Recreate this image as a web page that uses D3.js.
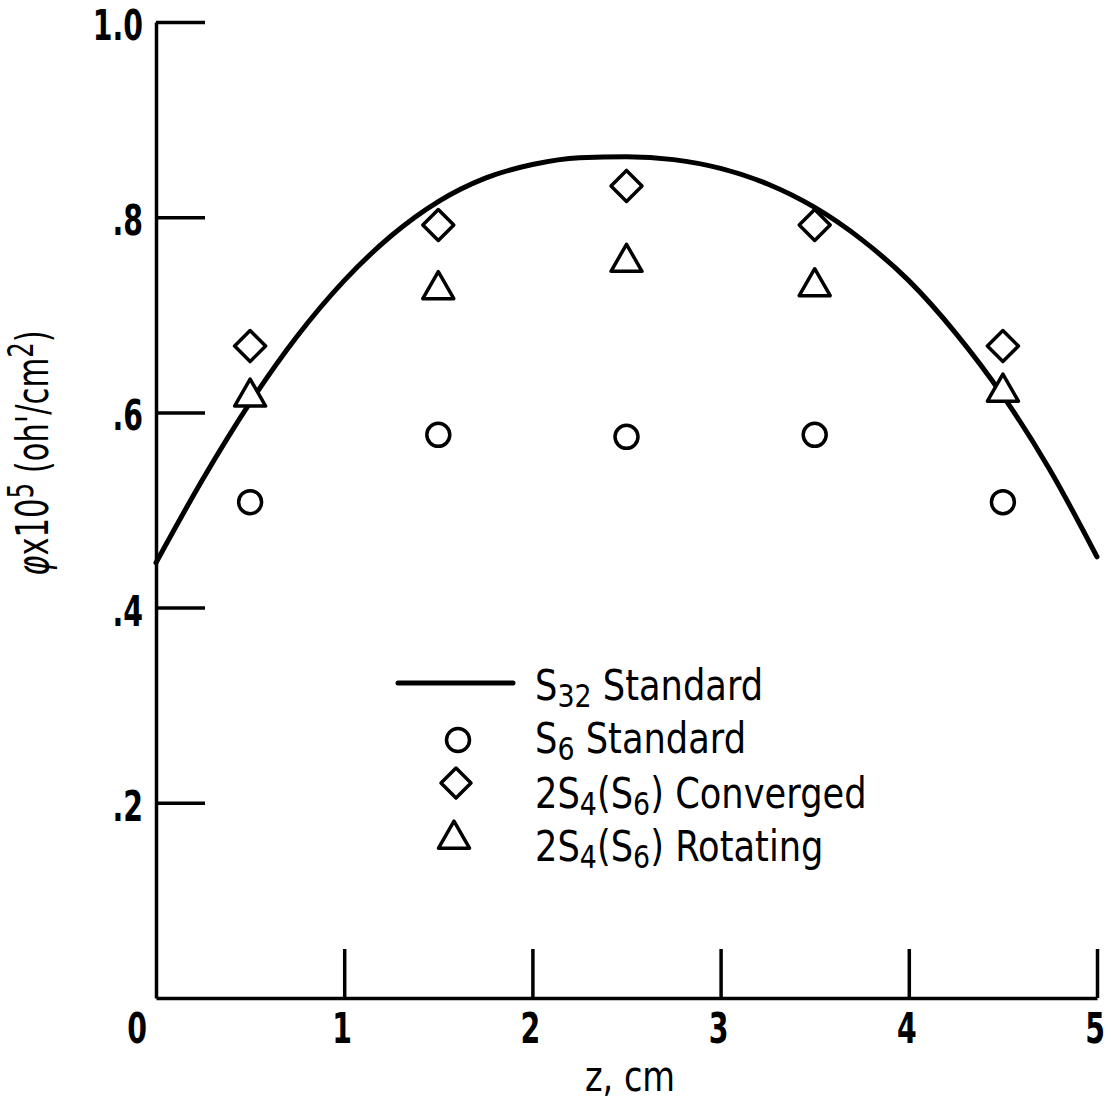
<!DOCTYPE html>
<html>
<head>
<meta charset="utf-8">
<script src="https://cdn.jsdelivr.net/npm/d3@7"></script>
<style>
  html, body { margin: 0; padding: 0; background: #fff; }
  svg { display: block; }
  .lbl { font-family: "DejaVu Sans", sans-serif; fill: #000; }
</style>
</head>
<body>
<svg id="chart" width="1111" height="1102"></svg>
<script>
// ---- data ----
const xTicks = [0, 1, 2, 3, 4, 5];
const xTickLabels = ["0", "1", "2", "3", "4", "5"];
const yTicks = [0.2, 0.4, 0.6, 0.8, 1.0];
const yTickLabels = [".2", ".4", ".6", ".8", "1.0"];

// S32 Standard (solid curve)
const curveZ = [0, 0.25, 0.5, 0.75, 1.0, 1.25, 1.5, 1.75, 2.0, 2.25, 2.5, 2.75, 3.0, 3.25, 3.5, 3.75, 4.0, 4.25, 4.5, 4.75, 5.0];
const curvePhi = [0.446, 0.532, 0.610, 0.678, 0.735, 0.781, 0.816, 0.840, 0.854, 0.861, 0.862, 0.859, 0.850, 0.834, 0.810, 0.777, 0.735, 0.681, 0.617, 0.541, 0.452];

// point series
const pointZ = [0.5, 1.5, 2.5, 3.5, 4.5];
const s6Standard = [0.508, 0.577, 0.575, 0.577, 0.508];
const converged = [0.668, 0.792, 0.832, 0.792, 0.668];
const rotating = [0.619, 0.729, 0.757, 0.732, 0.624];

const legendLabels = [
  ["S", "32", " Standard"],
  ["S", "6", " Standard"],
  ["2S", "4", "(S", "6", ") Converged"],
  ["2S", "4", "(S", "6", ") Rotating"]
];

// ---- scales ----
const svg = d3.select("#chart");
const x = d3.scaleLinear().domain([0, 5]).range([156, 1097]);
const y = d3.scaleLinear().domain([0, 1]).range([998, 22]);

const AX = 3.5;

// y axis (ticks pointing right, inside)
const yAxis = svg.append("g").attr("transform", `translate(${x(0)},0)`)
  .call(d3.axisRight(y).tickValues(yTicks).tickSize(49).tickSizeOuter(0).tickFormat(""));
yAxis.select(".domain").attr("stroke", "#000").attr("stroke-width", AX);
yAxis.selectAll(".tick line").attr("stroke", "#000").attr("stroke-width", AX);

// x axis (ticks pointing up, inside)
const xAxis = svg.append("g").attr("transform", `translate(0,${y(0)})`)
  .call(d3.axisTop(x).tickValues(xTicks.filter(d => d > 0)).tickSize(49).tickSizeOuter(0).tickFormat(""));
xAxis.select(".domain").attr("stroke", "#000").attr("stroke-width", AX);
xAxis.selectAll(".tick line").attr("stroke", "#000").attr("stroke-width", AX);

// helper: horizontally condensed text
function ctext(parent, tx, ty, sx, rot) {
  const g = parent.append("g").attr("transform", `translate(${tx},${ty})${rot ? ` rotate(${rot})` : ""} scale(${sx},1)`);
  return g.append("text").attr("class", "lbl");
}

// tick labels
const yl = svg.append("g");
yTicks.forEach((d, i) => {
  ctext(yl, 143, y(d) + 18, 0.66)
    .attr("text-anchor", "end").attr("font-size", 43).attr("font-weight", "bold")
    .text(yTickLabels[i]);
});
const xl = svg.append("g");
xTicks.forEach((d, i) => {
  ctext(xl, d === 0 ? x(d) - 19 : x(d) - 2, 1043, 0.66)
    .attr("text-anchor", "middle").attr("font-size", 43).attr("font-weight", "bold")
    .text(xTickLabels[i]);
});

// axis titles
ctext(svg, 630, 1091, 0.8)
  .attr("text-anchor", "middle").attr("font-size", 42)
  .text("z, cm");

const yt = ctext(svg, 48, 453, 0.68, -90)
  .attr("text-anchor", "middle").attr("font-size", 45);
yt.append("tspan").attr("font-style", "italic").text("φ");
yt.append("tspan").text("x10");
yt.append("tspan").attr("dy", -15).attr("font-size", 36).text("5");
yt.append("tspan").attr("dy", 15).text(" (oh'/cm");
yt.append("tspan").attr("dy", -15).attr("font-size", 36).text("2");
yt.append("tspan").attr("dy", 15).text(")");

// curve
const line = d3.line().x((d, i) => x(curveZ[i])).y(d => y(d)).curve(d3.curveMonotoneX);
svg.append("path").datum(curvePhi)
  .attr("d", line)
  .attr("fill", "none").attr("stroke", "#000").attr("stroke-width", 5)
  .attr("stroke-linecap", "round");

// markers
const circleSym = d3.symbol().type(d3.symbolCircle).size(Math.PI * 11.5 * 11.5);
const diamondPath = r => `M0,${-r}L${r},0L0,${r}L${-r},0Z`;
const trianglePath = (w, h) => `M0,${-h * 0.55}L${w / 2},${h * 0.45}L${-w / 2},${h * 0.45}Z`;

const MS = 3.5;
svg.append("g").selectAll("path").data(s6Standard).join("path")
  .attr("transform", (d, i) => `translate(${x(pointZ[i])},${y(d)})`)
  .attr("d", circleSym())
  .attr("fill", "none").attr("stroke", "#000").attr("stroke-width", MS);

svg.append("g").selectAll("path").data(converged).join("path")
  .attr("transform", (d, i) => `translate(${x(pointZ[i])},${y(d)})`)
  .attr("d", diamondPath(15.5))
  .attr("fill", "none").attr("stroke", "#000").attr("stroke-width", MS).attr("stroke-linejoin", "round");

svg.append("g").selectAll("path").data(rotating).join("path")
  .attr("transform", (d, i) => `translate(${x(pointZ[i])},${y(d)})`)
  .attr("d", trianglePath(31, 27))
  .attr("fill", "#fff").attr("stroke", "#000").attr("stroke-width", MS).attr("stroke-linejoin", "round");

// legend
const leg = svg.append("g");
leg.append("line").attr("x1", 398).attr("x2", 513).attr("y1", 683).attr("y2", 683)
  .attr("stroke", "#000").attr("stroke-width", 5).attr("stroke-linecap", "round");
leg.append("path").attr("transform", "translate(458,740)").attr("d", circleSym())
  .attr("fill", "none").attr("stroke", "#000").attr("stroke-width", MS);
leg.append("path").attr("transform", "translate(456,783)").attr("d", diamondPath(15))
  .attr("fill", "none").attr("stroke", "#000").attr("stroke-width", MS).attr("stroke-linejoin", "round");
leg.append("path").attr("transform", "translate(454,836)").attr("d", trianglePath(31, 27))
  .attr("fill", "none").attr("stroke", "#000").attr("stroke-width", MS).attr("stroke-linejoin", "round");

const legBase = [700, 753, 808, 861];
legendLabels.forEach((parts, i) => {
  const t = ctext(leg, 535, legBase[i], 0.84).attr("font-size", 42);
  parts.forEach((p, j) => {
    const isSub = j % 2 === 1;
    const prevSub = j > 0 && (j - 1) % 2 === 1;
    const ts = t.append("tspan").text(p);
    if (isSub) ts.attr("dy", 7).attr("font-size", 32);
    else if (prevSub) ts.attr("dy", -7);
  });
});
</script>
</body>
</html>
